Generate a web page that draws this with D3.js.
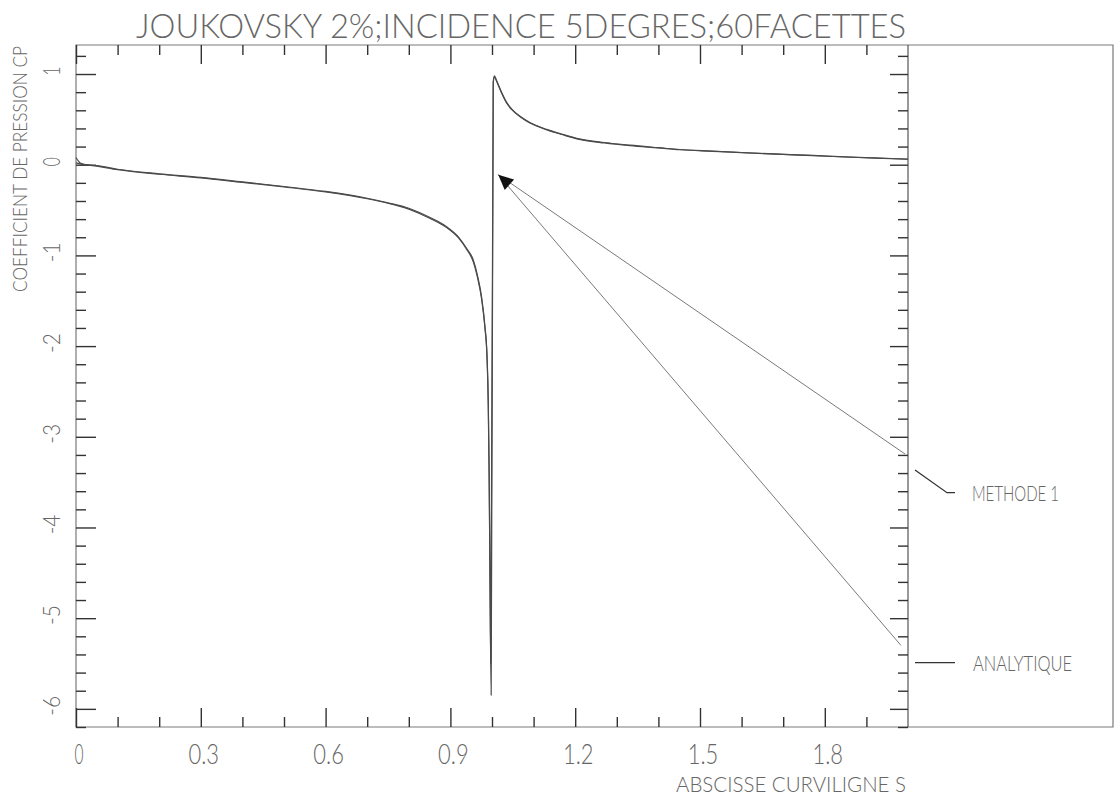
<!DOCTYPE html>
<html><head><meta charset="utf-8">
<script src="https://cdn.jsdelivr.net/npm/d3@7"></script>
<style>
body{margin:0;background:#fff;}
svg{display:block;}
text{font-family:"Lato","Roboto","DejaVu Sans",sans-serif;font-weight:300;fill:#666;}
</style></head><body>
<svg id="c" width="1116" height="797"></svg>
<script>
const title = "JOUKOVSKY 2%;INCIDENCE 5DEGRES;60FACETTES";
const xTitle = "ABSCISSE CURVILIGNE S";
const yTitle = "COEFFICIENT DE PRESSION CP";
const seriesNames = ["METHODE 1", "ANALYTIQUE"];
const xTickValues = [0, 0.3, 0.6, 0.9, 1.2, 1.5, 1.8];
const xTickLabels = ["0", "0.3", "0.6", "0.9", "1.2", "1.5", "1.8"];
const yTickValues = [1, 0, -1, -2, -3, -4, -5, -6];
const yTickLabels = ["1", "0", "-1", "-2", "-3", "-4", "-5", "-6"];

const sMethode = [0, 0.02, 0.05, 0.1, 0.2, 0.3, 0.4, 0.5, 0.6, 0.7, 0.75, 0.8, 0.85, 0.89, 0.92, 0.94, 0.955, 0.965, 0.975, 0.983, 0.988, 0.991, 0.993, 0.995, 0.997, 1.003, 1.006, 1.01, 1.023, 1.035, 1.047, 1.07, 1.091, 1.131, 1.17, 1.21, 1.27, 1.332, 1.4, 1.452, 1.53, 1.612, 1.7, 1.772, 1.85, 1.92, 2.0];
const cpMethode = [0.02, 0.0, -0.01, -0.05, -0.1, -0.14, -0.19, -0.24, -0.295, -0.37, -0.42, -0.48, -0.58, -0.68, -0.8, -0.93, -1.05, -1.22, -1.46, -1.78, -2.1, -2.6, -3.3, -4.4, -5.5, 0.9, 0.97, 0.93, 0.79, 0.68, 0.61, 0.52, 0.46, 0.385, 0.33, 0.28, 0.24, 0.21, 0.185, 0.165, 0.148, 0.13, 0.113, 0.10, 0.085, 0.073, 0.06];

const sAnalytique = [0, 0.01, 0.02, 0.05, 0.1, 0.2, 0.3, 0.4, 0.5, 0.6, 0.7, 0.75, 0.8, 0.85, 0.89, 0.92, 0.94, 0.955, 0.965, 0.975, 0.983, 0.988, 0.991, 0.993, 0.995, 0.998, 1.003, 1.006, 1.01, 1.023, 1.035, 1.047, 1.07, 1.091, 1.131, 1.17, 1.21, 1.27, 1.332, 1.4, 1.452, 1.53, 1.612, 1.7, 1.772, 1.85, 1.92, 2.0];
const cpAnalytique = [0.08, 0.02, 0.005, -0.015, -0.055, -0.105, -0.145, -0.195, -0.245, -0.3, -0.375, -0.425, -0.49, -0.59, -0.69, -0.81, -0.94, -1.07, -1.24, -1.48, -1.8, -2.13, -2.65, -3.4, -4.5, -5.85, 0.92, 0.98, 0.94, 0.8, 0.69, 0.615, 0.525, 0.465, 0.39, 0.335, 0.285, 0.245, 0.215, 0.188, 0.168, 0.15, 0.132, 0.115, 0.102, 0.087, 0.075, 0.062];

const arrowTip = [1.015, -0.11];
const arrowTails = [[1.993, -3.19], [1.983, -5.3]];

const svg = d3.select("#c");
const L = 76, R = 908, T = 45, B = 727, OUTR = 1113;
const x = d3.scaleLinear().domain([0, 2.0]).range([L, R]);
const y = d3.scaleLinear().domain([-6.2, 1.32]).range([B, T]);

// frame
const frame = svg.append("g").attr("fill", "none").attr("stroke", "#7a7a7a").attr("stroke-width", 1.2);
frame.append("path").attr("d", `M${L},${T}H${OUTR}V${B}H${L}Z`);
frame.append("path").attr("d", `M${R},${T}V${B}`).attr("stroke", "#555");

// ticks via axes
const yMinor = d3.range(-31, 7).map(i => +(i * 0.2).toFixed(1)).filter(v => Math.abs(v - Math.round(v)) > 1e-6);
const xMinor = d3.range(1, 20).map(i => +(i * 0.1).toFixed(1)).filter(v => Math.abs(v / 0.3 - Math.round(v / 0.3)) > 1e-6);
function ax(axis, tx, ty) {
  const g = svg.append("g").attr("transform", `translate(${tx},${ty})`).call(axis);
  g.select(".domain").remove();
  g.selectAll("text").remove();
  g.selectAll("line").attr("stroke", "#333").attr("stroke-width", 1.4);
}
ax(d3.axisLeft(y).tickValues(yTickValues).tickSize(-20).tickFormat(""), L, 0);
ax(d3.axisLeft(y).tickValues(yMinor).tickSize(-10).tickFormat(""), L, 0);
ax(d3.axisRight(y).tickValues(yTickValues).tickSize(-18).tickFormat(""), R, 0);
ax(d3.axisRight(y).tickValues(yMinor).tickSize(-10).tickFormat(""), R, 0);
ax(d3.axisTop(x).tickValues(xTickValues).tickSize(-19).tickFormat(""), 0, T);
ax(d3.axisTop(x).tickValues(xMinor).tickSize(-10).tickFormat(""), 0, T);
ax(d3.axisBottom(x).tickValues(xTickValues).tickSize(-19).tickFormat(""), 0, B);
ax(d3.axisBottom(x).tickValues(xMinor).tickSize(-10).tickFormat(""), 0, B);

// curves
const line = d3.line().x(d => x(d[0])).y(d => y(d[1])).curve(d3.curveMonotoneX);
const series = [
  {name: seriesNames[0], s: sMethode, cp: cpMethode},
  {name: seriesNames[1], s: sAnalytique, cp: cpAnalytique}
];
svg.append("g").selectAll("path").data(series).join("path")
  .attr("fill", "none").attr("stroke", "#4a4a4a").attr("stroke-width", 1.2)
  .attr("stroke-linejoin", "round")
  .attr("d", d => line(d.s.map((v, i) => [v, d.cp[i]])));

// arrows
const tip = [x(arrowTip[0]), y(arrowTip[1])];
svg.append("g").selectAll("line").data(arrowTails).join("line")
  .attr("x1", d => x(d[0])).attr("y1", d => y(d[1]))
  .attr("x2", tip[0]).attr("y2", tip[1])
  .attr("stroke", "#6a6a6a").attr("stroke-width", 0.9);
{
  let dx = 0, dy = 0;
  arrowTails.forEach(d => {
    const vx = x(d[0]) - tip[0], vy = y(d[1]) - tip[1], l = Math.hypot(vx, vy);
    dx += vx / l; dy += vy / l;
  });
  const l = Math.hypot(dx, dy); dx /= l; dy /= l;
  const len = 15, hw = 7;
  const bx = tip[0] + dx * len, by = tip[1] + dy * len;
  svg.append("path").attr("fill", "#111")
    .attr("d", `M${tip[0]},${tip[1]}L${bx - dy * hw},${by + dx * hw}L${bx + dy * hw},${by - dx * hw}Z`);
}

// text helper
function txt(str, tx, ty, size, len, anchor, rot) {
  let x0 = 0;
  if (anchor === "middle") x0 = -len / 2;
  else if (anchor === "end") x0 = -len;
  svg.append("text")
    .attr("transform", `translate(${tx},${ty})` + (rot ? ` rotate(${rot})` : ""))
    .attr("x", x0).attr("y", 0)
    .attr("font-size", size)
    .attr("textLength", len).attr("lengthAdjust", "spacingAndGlyphs")
    .text(str);
}
const lblLen = s => 10.8 * (s.length - 1) + 9;

txt(title, 136, 38, 33.5, 770, "start");
xTickValues.forEach((v, i) => txt(xTickLabels[i], x(v) + 3, 764, 26.5, lblLen(xTickLabels[i]), "middle"));
yTickValues.forEach((v, i) => txt(yTickLabels[i], 60, y(v) - 3, 24, lblLen(yTickLabels[i]), "middle", -90));
txt(xTitle, 676, 792, 22, 230, "start");
txt(yTitle, 27, 169, 19.5, 246, "middle", -90);

// legend
const leg = svg.append("g").attr("fill", "none").attr("stroke", "#333").attr("stroke-width", 1.3);
leg.append("path").attr("d", "M915,470L947,492.7H955");
leg.append("path").attr("d", "M915,662.7H955");
txt(seriesNames[0], 972, 501, 22, 87, "start");
txt(seriesNames[1], 973, 671, 21, 99, "start");
</script>
</body></html>
